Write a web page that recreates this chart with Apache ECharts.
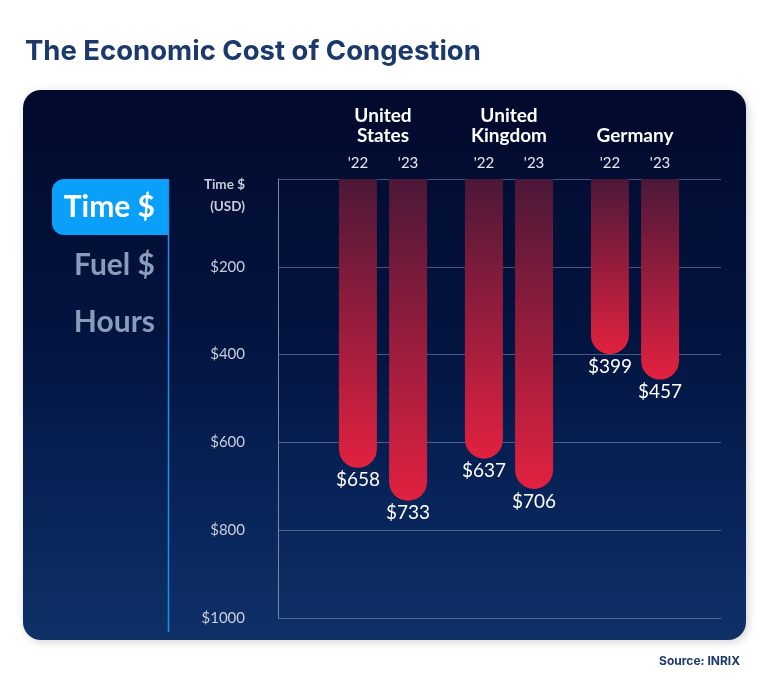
<!DOCTYPE html>
<html><head><meta charset="utf-8">
<script src="https://cdn.jsdelivr.net/npm/echarts@6/dist/echarts.min.js"></script>
<style>html,body{margin:0;padding:0;background:#fff}#c{width:769px;height:682px}</style>
</head><body><div id="c"></div>
<script>
const countries = ['United\nStates', 'United\nKingdom', 'Germany'];
const years = ["'22", "'23"];
const time2022 = [658, 637, 399];
const time2023 = [733, 706, 457];
const yTicks = [0, 200, 400, 600, 800, 1000];
const metrics = ['Time $', 'Fuel $', 'Hours'];

const chart = echarts.init(document.getElementById('c'));
const barGrad = {type:'linear',x:0,y:0,x2:0,y2:1,colorStops:[{offset:0,color:'#4c1838'},{offset:1,color:'#e22140'}]};
const F = 'Lato, "Noto Sans", sans-serif';

function valueSeries(name, data, stack){
  return {name, type:'bar', xAxisIndex:1, yAxisIndex:1, stack, data, barWidth:38, barGap:'32%',
    itemStyle:{color:barGrad, borderRadius:[0,0,19,19]},
    label:{show:true, position:'bottom', distance:3, color:'#ffffff', fontFamily:F, fontSize:19,
      formatter:p=>'$'+p.value}};
}
function yearSeries(yr, stack){
  return {name:yr, type:'bar', xAxisIndex:1, yAxisIndex:1, stack, data:countries.map(()=>0), barWidth:38, barGap:'32%',
    itemStyle:{color:'transparent'},
    label:{show:true, position:'top', distance:8, color:'#e6e9f2', fontFamily:F, fontSize:15, formatter:()=>yr}};
}

chart.setOption({
  animation:false,
  title:[
    {text:'The Economic Cost of Congestion', left:20, top:33, textStyle:{fontFamily:'Inter, "Noto Sans", sans-serif', fontWeight:'bold', fontSize:27.5, color:'#1b3a6b'}},
    {text:'Source: INRIX', right:24, top:650, textStyle:{fontFamily:'Inter, "Noto Sans", sans-serif', fontWeight:'bold', fontSize:12, color:'#1b3a6b'}}
  ],
  graphic:[
    {type:'rect', z:-10, shape:{x:23,y:90,width:723,height:550,r:18},
      style:{fill:{type:'linear',x:0,y:0,x2:0,y2:1,colorStops:[{offset:0,color:'#020a2c'},{offset:0.45,color:'#031440'},{offset:0.75,color:'#082459'},{offset:1,color:'#0f3168'}]},
        shadowBlur:8, shadowColor:'rgba(0,0,0,0.18)', shadowOffsetX:2, shadowOffsetY:2}},
    {type:'rect', shape:{x:52,y:179,width:116,height:56,r:[12,0,0,12]}, style:{fill:'#0a9ff8'}},
    {type:'line', shape:{x1:168.5,y1:179,x2:168.5,y2:632}, style:{stroke:'#1a8ff0', lineWidth:1.5}},
    {type:'text', style:{text:metrics[0], x:155, y:207, align:'right', verticalAlign:'middle', fill:'#ffffff', font:'bold 30px Lato, sans-serif'}},
    {type:'text', style:{text:metrics[1], x:155, y:265, align:'right', verticalAlign:'middle', fill:'#8a9cbb', font:'bold 30px Lato, sans-serif'}},
    {type:'text', style:{text:metrics[2], x:155, y:322, align:'right', verticalAlign:'middle', fill:'#8a9cbb', font:'bold 30px Lato, sans-serif'}},
    {type:'text', style:{text:'Time $\n(USD)', x:245, y:174, align:'right', verticalAlign:'top', fill:'#c9cedd', font:'bold 13.5px Lato, sans-serif', lineHeight:22}}
  ],
  grid:[
    {left:278, right:48, top:179, bottom:64},
    {left:320, right:71, top:179, bottom:64}
  ],
  xAxis:[
    {gridIndex:0, type:'category', data:[], show:false},
    {gridIndex:1, type:'category', data:countries, position:'top',
      axisLine:{show:false}, axisTick:{show:false},
      axisLabel:{margin:33, color:'#ffffff', fontFamily:F, fontWeight:'bold', fontSize:19, lineHeight:20}}
  ],
  yAxis:[
    {gridIndex:0, type:'value', inverse:true, min:yTicks[0], max:yTicks[yTicks.length-1], interval:200,
      axisLine:{show:true, lineStyle:{color:'#7c86a3', width:1}}, axisTick:{show:false},
      splitLine:{show:true, lineStyle:{color:'rgba(160,172,200,0.45)', width:1}},
      axisLabel:{margin:33, color:'#c9cedd', fontFamily:F, fontSize:15, formatter:v=>v===0?'':'$'+v}},
    {gridIndex:1, type:'value', inverse:true, min:0, max:1000, show:false, splitLine:{show:false}}
  ],
  series:[
    yearSeries(years[0], 's22'),
    valueSeries('2022', time2022, 's22'),
    yearSeries(years[1], 's23'),
    valueSeries('2023', time2023, 's23')
  ]
});
</script></body></html>
